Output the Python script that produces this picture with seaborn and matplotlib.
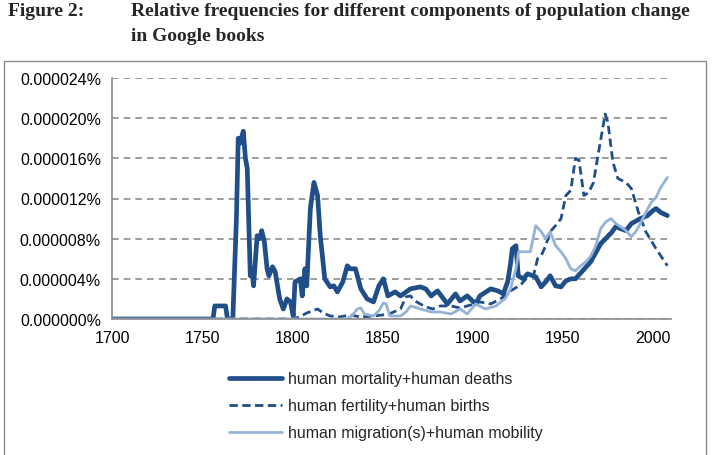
import seaborn as sns
import matplotlib.pyplot as plt
from matplotlib.patches import Rectangle

# values in units of 0.000001 %
mort_years = [1700, 1756, 1757, 1763, 1764, 1767, 1769, 1770, 1771, 1772.8, 1774, 1775,
              1776.7, 1777.5, 1778.5, 1780.5, 1782, 1783, 1784.5, 1786, 1787, 1789, 1790.5,
              1793, 1795, 1797, 1799, 1800.5, 1801.5, 1804.4, 1805.5, 1807, 1808, 1810, 1812,
              1814, 1815.5, 1818, 1821, 1823, 1825, 1828, 1830.5, 1832, 1835, 1838, 1841.5,
              1845, 1848, 1850.5, 1853, 1857, 1860, 1865.5, 1871, 1874, 1877, 1880.5, 1886,
              1890.5, 1893, 1897, 1901.7, 1904, 1910, 1914, 1917, 1919.4, 1921, 1922, 1924,
              1925.3, 1928, 1930.5, 1935, 1938, 1940.5, 1943, 1946, 1949, 1951.7, 1954.4,
              1957, 1960, 1963, 1965.5, 1971, 1977, 1979.4, 1982, 1985, 1988, 1993, 1997,
              2000, 2001.7, 2004.4, 2008]
mort_vals = [0, 0, 1.3, 1.3, 0, 0, 10, 18, 17.5, 18.7, 16, 15,
             4.3, 5.0, 3.3, 8.3, 8.0, 8.8, 7.7, 5.0, 4.3, 5.2, 4.7,
             2.0, 1.0, 2.0, 1.7, 0.3, 3.7, 4.0, 2.3, 5.0, 3.3, 11, 13.6,
             12.3, 8.3, 4.0, 3.2, 3.3, 2.7, 3.7, 5.3, 5.0, 5.0, 3.0, 2.0,
             1.7, 3.3, 4.0, 2.3, 2.7, 2.3, 3.0, 3.2, 3.0, 2.3, 2.8, 1.5,
             2.5, 1.8, 2.3, 1.5, 2.3, 3.0, 2.8, 2.5, 3.7, 5.5, 7.0, 7.3,
             4.3, 4.0, 4.5, 4.2, 3.2, 3.7, 4.3, 3.3, 3.2, 3.8, 4.0,
             4.0, 4.6, 5.2, 5.7, 7.5, 8.6, 9.2, 9.0, 8.8, 9.5, 10.0, 10.3,
             10.8, 11.0, 10.6, 10.3]

fert_years = [1700, 1800, 1804, 1808, 1811, 1814, 1817, 1821, 1826, 1832, 1838, 1845, 1850,
              1855, 1860, 1863, 1865.5, 1868, 1871, 1874, 1878, 1882, 1888, 1893, 1899, 1904,
              1910, 1915.5, 1921, 1926.7, 1931, 1934, 1936, 1938, 1940.5, 1943, 1946, 1949,
              1951.7, 1954.4, 1957, 1959, 1961.7, 1964.4, 1967, 1970, 1973.5, 1975, 1977.8,
              1980.5, 1985, 1988, 1992, 1996, 2001.7, 2008]
fert_vals = [0, 0, 0.2, 0.6, 0.8, 1.0, 0.6, 0.3, 0.2, 0.4, 0.2, 0.3, 0.4,
             0.6, 1.0, 2.2, 2.3, 1.8, 1.5, 1.2, 1.0, 1.3, 1.3, 1.1, 1.4, 1.7,
             1.5, 2.0, 2.8, 3.4, 4.3, 4.5, 6.0, 6.3, 7.3, 8.7, 9.3, 10.0,
             12.3, 12.8, 16.0, 15.8, 12.3, 12.6, 13.6, 16.8, 20.4, 19.6, 15.6,
             14.0, 13.6, 13.0, 10.6, 8.7, 7.0, 5.3]

migr_years = [1700, 1830, 1833, 1836, 1838, 1840, 1845, 1848, 1850.5, 1852, 1854, 1860,
              1863, 1865.6, 1871, 1877, 1882, 1888, 1893, 1897, 1901.7, 1907, 1913, 1915.5,
              1918, 1921, 1924, 1925.5, 1929, 1932, 1935, 1938, 1940.5, 1943, 1946, 1949,
              1951.7, 1954.4, 1957, 1960, 1962.8, 1965.6, 1968.3, 1971, 1974, 1976.7,
              1979.4, 1982, 1985, 1988, 1990.5, 1993, 1996, 1999, 2001.7, 2004, 2008]
migr_vals = [0, 0, 0.3, 1.0, 1.1, 0.5, 0.3, 0.8, 1.6, 1.5, 0.3, 0.3,
             0.7, 1.3, 1.0, 0.7, 0.7, 0.5, 1.0, 0.5, 1.5, 1.0, 1.3, 1.7,
             2.0, 3.0, 5.0, 6.7, 6.7, 6.7, 9.3, 8.7, 8.0, 8.7, 7.3, 6.7,
             6.0, 5.0, 4.8, 5.3, 5.7, 6.3, 7.3, 9.0, 9.7, 10.0,
             9.5, 9.2, 8.8, 8.2, 8.7, 9.5, 10.6, 11.6, 12.1, 13.0, 14.1]

labels = ['human mortality+human deaths', 'human fertility+human births',
          'human migration(s)+human mobility']
yticks = [0, 4, 8, 12, 16, 20, 24]
xticks = [1700, 1750, 1800, 1850, 1900, 1950, 2000]

sns.set_style('white')
plt.rcParams['font.family'] = ['Liberation Sans', 'DejaVu Sans']

W, H = 714, 456
fig = plt.figure(figsize=(W / 100, H / 100), dpi=100)
ax = fig.add_axes([112 / W, 1 - 320 / H, (671 - 112) / W, (320 - 79) / H])

# outer gray box around the chart
fig.patches.append(Rectangle((4 / W, -0.01), (706 - 4) / W, 1 - 62 / H + 0.01,
                             transform=fig.transFigure, fill=False,
                             edgecolor='#8c8c8c', linewidth=1.0))

dark = '#1f4e89'
light = '#95b3d7'

sns.lineplot(x=mort_years, y=mort_vals, ax=ax, color=dark, linewidth=3.4,
             label=labels[0])
sns.lineplot(x=fert_years, y=fert_vals, ax=ax, color=dark, linewidth=2.0,
             linestyle=(0, (3, 1.6)), label=labels[1])
sns.lineplot(x=migr_years, y=migr_vals, ax=ax, color=light, linewidth=2.0,
             label=labels[2])

ax.set_xlim(1700, 2010)
ax.set_ylim(0, 24)
ax.set_xticks(xticks)
ax.set_yticks(yticks)
ax.set_yticklabels(['0.%06d%%' % v for v in yticks])
ax.tick_params(axis='both', direction='out', length=4, color='#8c8c8c', width=1,
               labelsize=11.5, labelcolor='black', pad=4)
ax.grid(axis='y', color='#8c8c8c', linestyle=(0, (4, 3)), linewidth=1.2)
for s in ['top', 'right']:
    ax.spines[s].set_visible(False)
for s in ['left', 'bottom']:
    ax.spines[s].set_color('#8c8c8c')
    ax.spines[s].set_linewidth(1.2)
ax.set_xlabel('')
ax.set_ylabel('')

leg = ax.legend(loc='upper left', bbox_to_anchor=(215 / W, 1 - 358 / H),
                bbox_transform=fig.transFigure, frameon=False, fontsize=11.5,
                handlelength=3.3, handletextpad=0.35, labelspacing=0.75)

fig.text(8 / W, 1 - 3 / H, 'Figure 2:', family='Liberation Serif', weight='bold',
         fontsize=14, va='top')
fig.text(131 / W, 1 - 3 / H, 'Relative frequencies for different components of population change',
         family='Liberation Serif', weight='bold', fontsize=14, va='top')
fig.text(131 / W, 1 - 28 / H, 'in Google books', family='Liberation Serif',
         weight='bold', fontsize=14, va='top')

fig.savefig('out.png', dpi=100)
